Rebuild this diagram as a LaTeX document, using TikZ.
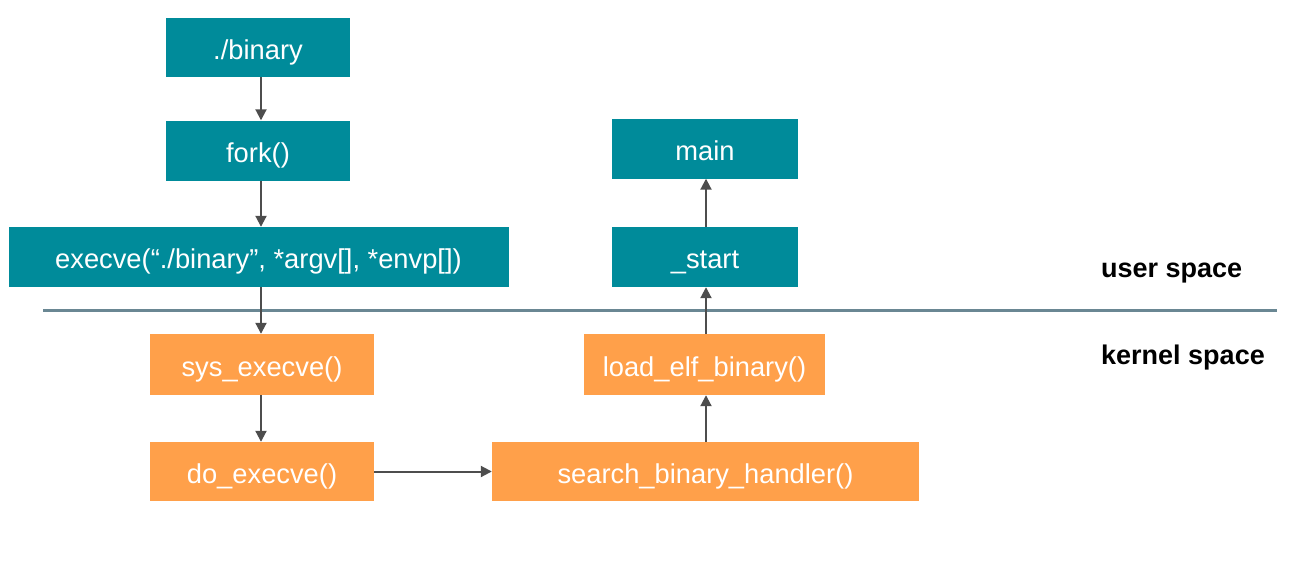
\documentclass[tikz,border=0pt]{standalone}
\usepackage{fontspec}
\setmainfont{Liberation Sans}
\usetikzlibrary{arrows.meta}
\definecolor{tealbox}{HTML}{008B9A}
\definecolor{orangebox}{HTML}{FFA04A}
\definecolor{arrowgray}{HTML}{4D4D4D}
\definecolor{sepline}{HTML}{6A8793}
\tikzset{
  boxbase/.style={text=white, inner sep=0pt, text height=25.4pt, text depth=1.9pt, font=\fontsize{27.3}{32}\selectfont},
  userbox/.style={boxbase, fill=tealbox},
  kernbox/.style={boxbase, fill=orangebox},
  flow/.style={draw=arrowgray, line width=2pt, -{Triangle[length=11pt,width=11pt]}},
  spacelabel/.style={font=\bfseries\fontsize{27}{32}\selectfont, anchor=base west, inner sep=0pt},
}
\begin{document}
\begin{tikzpicture}[x=1pt,y=-1pt]
\useasboundingbox (0,0) rectangle (1291,570);
\node[userbox, minimum width=184pt, minimum height=59pt] (binary) at (258,47.5) {./binary};
\node[userbox, minimum width=184pt, minimum height=60pt] (fork) at (258,150.5) {fork()};
\node[userbox, minimum width=500pt, minimum height=60pt] (execve) at (258.5,257) {execve(“./binary”, *argv[], *envp[])};
\node[userbox, minimum width=186pt, minimum height=60pt] (main) at (705,148.5) {main};
\node[userbox, minimum width=186pt, minimum height=60pt] (start) at (705,257) {\_start};
\node[kernbox, minimum width=224pt, minimum height=61pt] (sys) at (262,364.5) {sys\_execve()};
\node[kernbox, minimum width=224pt, minimum height=59pt] (do) at (262,471.5) {do\_execve()};
\node[kernbox, minimum width=241pt, minimum height=61pt] (load) at (704.5,364.5) {load\_elf\_binary()};
\node[kernbox, minimum width=427pt, minimum height=59pt] (search) at (705.5,471.5) {search\_binary\_handler()};
\coordinate (lineL) at (43,310);
\coordinate (lineR) at (1277,310);
\draw[draw=sepline, line width=3pt] (lineL) -- (lineR);
\node[spacelabel] (user) at (1101,277) {user space};
\node[spacelabel] (kernel) at (1101,364) {kernel space};
\coordinate (colL) at (261,0);
\coordinate (colR) at (706,0);
\draw[flow] (binary.south -| colL) -- (fork.north -| colL);
\draw[flow] (fork.south -| colL) -- (execve.north -| colL);
\draw[flow] (execve.south -| colL) -- (sys.north -| colL);
\draw[flow] (sys.south -| colL) -- (do.north -| colL);
\draw[flow] (do) -- (search);
\draw[flow] (search.north -| colR) -- (load.south -| colR);
\draw[flow] (load.north -| colR) -- (start.south -| colR);
\draw[flow] (start.north -| colR) -- (main.south -| colR);
\end{tikzpicture}
\end{document}
